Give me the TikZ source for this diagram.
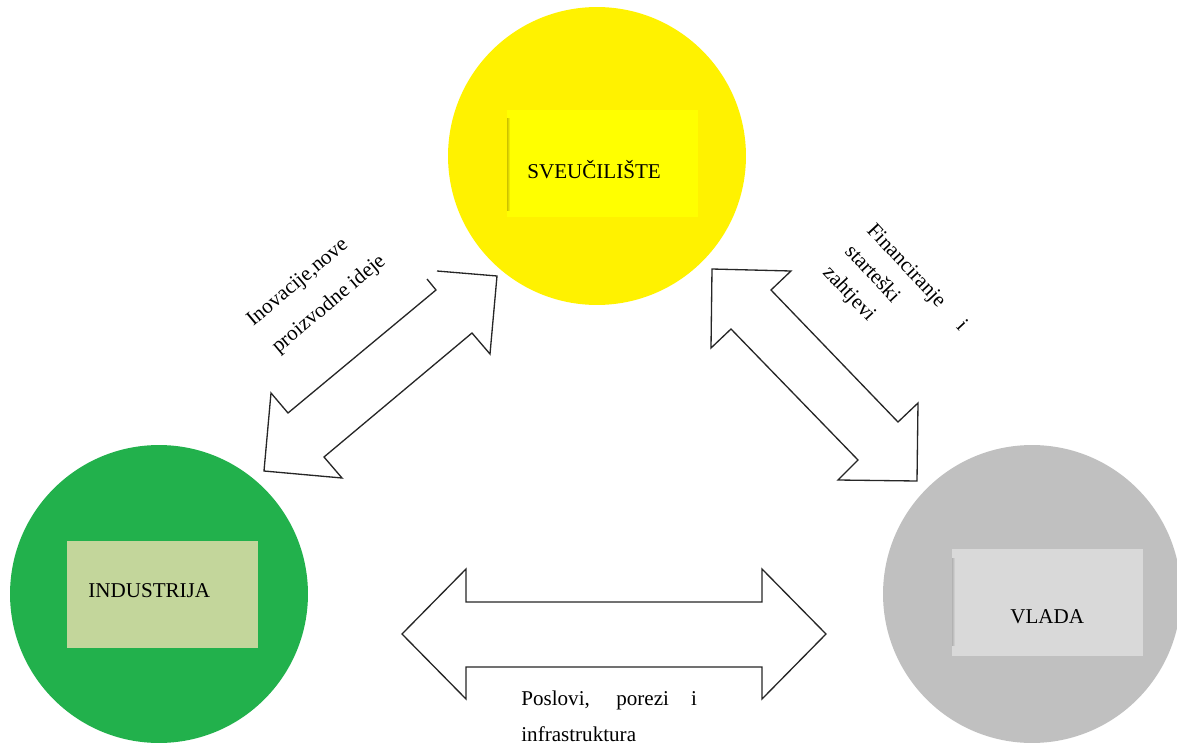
\documentclass[tikz,border=0pt]{standalone}
\usepackage{fontspec}
\setmainfont{Liberation Serif}
\definecolor{ylwC}{HTML}{FFF200}
\definecolor{ylwR}{HTML}{FFFF00}
\definecolor{grnC}{HTML}{22B14C}
\definecolor{grnR}{HTML}{C3D69B}
\definecolor{gryC}{HTML}{C0C0C0}
\definecolor{gryR}{HTML}{D9D9D9}
\begin{document}
\begin{tikzpicture}[x=0.02cm,y=-0.02cm,
  disc/.style={circle, inner sep=0pt, minimum size=5.96cm},
  card/.style={rectangle, inner sep=0pt, minimum width=3.82cm, minimum height=2.14cm},
  lbl/.style={anchor=base west, inner sep=0pt, font=\fontsize{12}{14}\selectfont},
  blockarrow/.style={draw=black!85, line width=0.75pt, line join=miter, fill=white}]
\useasboundingbox (0,0) rectangle (1177,744);
% circles
\node[disc, fill=ylwC] (uni) at (597,156) {};
\node[disc, fill=grnC] (ind) at (159,594) {};
\node[disc, fill=gryC] (gov) at (1032,594) {};
% inner boxes
\node[card, fill=ylwR] (unibox) at (602.5,163.5) {};
\node[card, fill=grnR] (indbox) at (162.5,594.5) {};
\node[card, fill=gryR] (govbox) at (1047.5,602.5) {};
\shade[left color=ylwC!80!black, right color=ylwR] (507,118) rectangle (510,210);
\shade[left color=black!30, right color=gryR] (952,558) rectangle (955,645);
% labels in boxes
\node[lbl] (tuni) at (527,178) {SVEUČILIŠTE};
\node[lbl] (tind) at (88,597) {INDUSTRIJA};
\node[lbl] (tgov) at (1010,623) {VLADA};
% block arrows
\draw[blockarrow] (427,279) -- (436,290) -- (288,413) -- (271,393) -- (264,471) -- (342,478) -- (324,457) -- (472,333) -- (490,354) -- (497,276) -- (437,271);
\draw[blockarrow] (712,269) -- (791,271) -- (771,290) -- (898,422) -- (918,403) -- (917,481) -- (838,480) -- (858,460) -- (731,329) -- (711,348) -- cycle;
\draw[blockarrow] (402,634) -- (466,569) -- (466,602) -- (762,602) -- (762,569) -- (826,634) -- (762,699) -- (762,667) -- (466,667) -- (466,699) -- cycle;
% arrow labels
\node[lbl, rotate=40] (inov1) at (253,327) {Inovacije,nove};
\node[lbl, rotate=40] (inov2) at (278,354) {proizvodne ideje};
\node[lbl, rotate=-47] (fin1) at (866,231) {\makebox[78pt][s]{Financiranje i}};
\node[lbl, rotate=-47] (fin2) at (844,252) {starteški};
\node[lbl, rotate=-47] (fin3) at (822,273) {zahtjevi};
\node[lbl] (pos1) at (521,705) {\makebox[100pt][s]{Poslovi, porezi i}};
\node[lbl] (pos2) at (521,741) {infrastruktura};
\end{tikzpicture}
\end{document}
